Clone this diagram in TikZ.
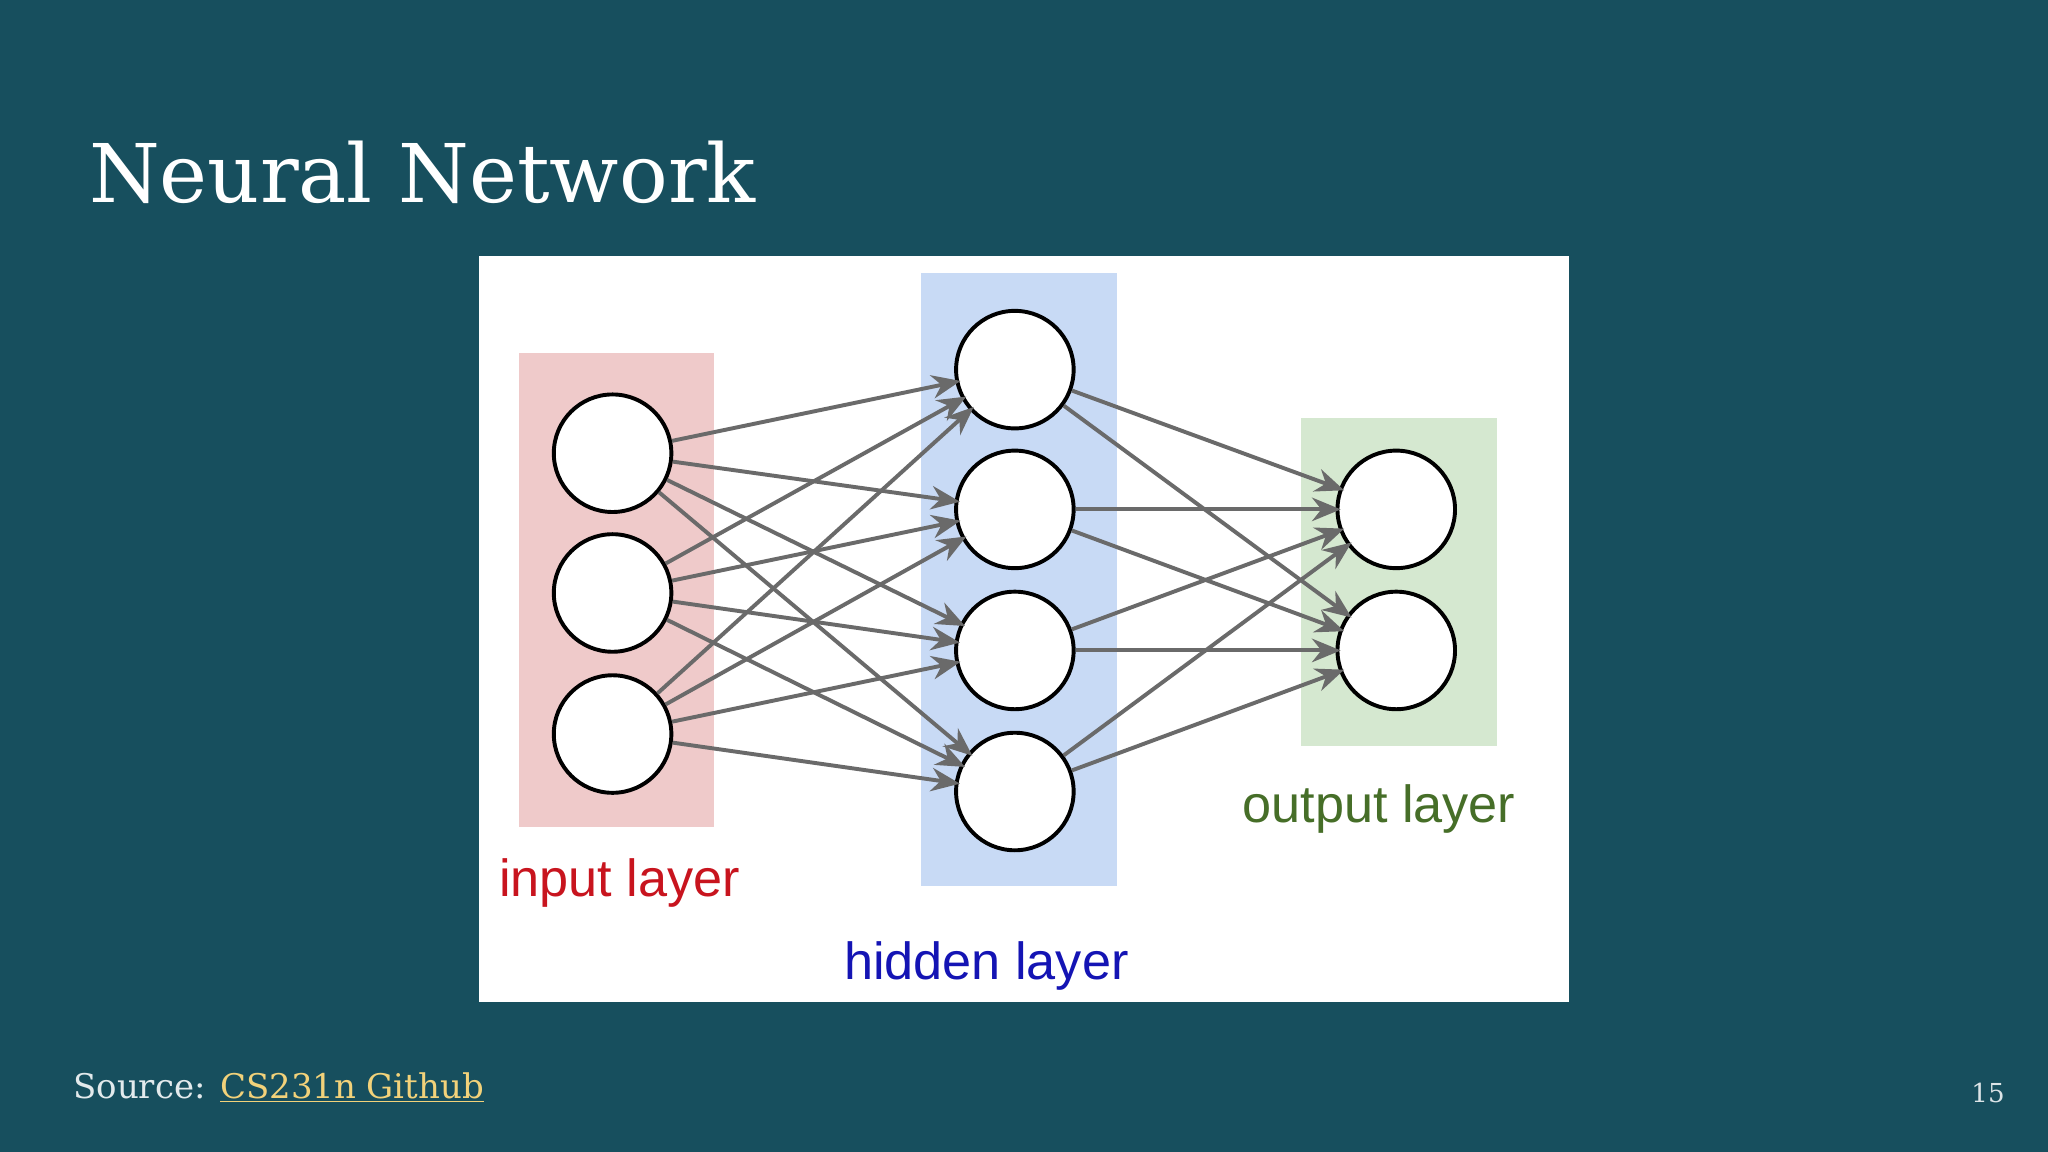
\documentclass[tikz,border=0pt]{standalone}
\usepackage{fontspec}
\setmainfont{DejaVu Serif}
\newfontfamily\lab{Liberation Sans}
\usetikzlibrary{arrows.meta}
\definecolor{bg}{HTML}{174F5E}
\definecolor{edge}{HTML}{6A6A6A}
\definecolor{link}{HTML}{F2D27A}
\begin{document}
\begin{tikzpicture}[x=1pt,y=-1pt,
  neu/.style={circle,draw=black,line width=3pt,fill=white,minimum size=90pt,inner sep=0pt},
  con/.style={draw=edge,line width=3pt,-{Stealth[length=22pt,width=18pt]},shorten >=-4pt}]
\useasboundingbox (0,0) rectangle (1568,882);
\fill[bg] (0,0) rectangle (1568,882);
\node[anchor=base west,text=white,font=\fontsize{62}{70}\selectfont,inner sep=0pt] (title) at (68,155) {Neural Network};
\fill[white] (367,196) rectangle (1201,767);
\fill[fill={rgb,255:red,239;green,202;blue,202}] (397,270) rectangle (547,633);
\fill[fill={rgb,255:red,200;green,218;blue,245}] (705,209) rectangle (855,678);
\fill[fill={rgb,255:red,213;green,232;blue,208}] (996,320) rectangle (1146,571);
\foreach \i/\y in {1/347,2/454,3/562} \node[neu] (i\i) at (469,\y) {};
\foreach \i/\y in {1/283,2/390,3/498,4/606} \node[neu] (h\i) at (777,\y) {};
\foreach \i/\y in {1/390,2/498} \node[neu] (o\i) at (1069,\y) {};
\foreach \a in {1,2,3} \foreach \b in {1,2,3,4} \draw[con] (i\a) -- (h\b);
\foreach \a in {1,2,3,4} \foreach \b in {1,2} \draw[con] (h\a) -- (o\b);
\node[anchor=base west,inner sep=0pt,text={rgb,255:red,200;green,20;blue,30},font=\lab\fontsize{40}{44}\selectfont] (il) at (382,686) {input layer};
\node[anchor=base west,inner sep=0pt,text={rgb,255:red,20;green,20;blue,180},font=\lab\fontsize{40}{44}\selectfont] (hl) at (646,750) {hidden layer};
\node[anchor=base west,inner sep=0pt,text={rgb,255:red,70;green,110;blue,40},font=\lab\fontsize{40}{44}\selectfont] (ol) at (951,630) {output layer};
\node[anchor=base west,inner sep=0pt,text=white!88!bg,font=\fontsize{26}{30}\selectfont] (src) at (56,841) {Source: \textcolor{link}{\underline{CS231n Github}}};
\node[anchor=base east,inner sep=0pt,text=white!85!bg,font=\fontsize{20}{24}\selectfont] (pg) at (1535,844) {15};
\end{tikzpicture}
\end{document}
